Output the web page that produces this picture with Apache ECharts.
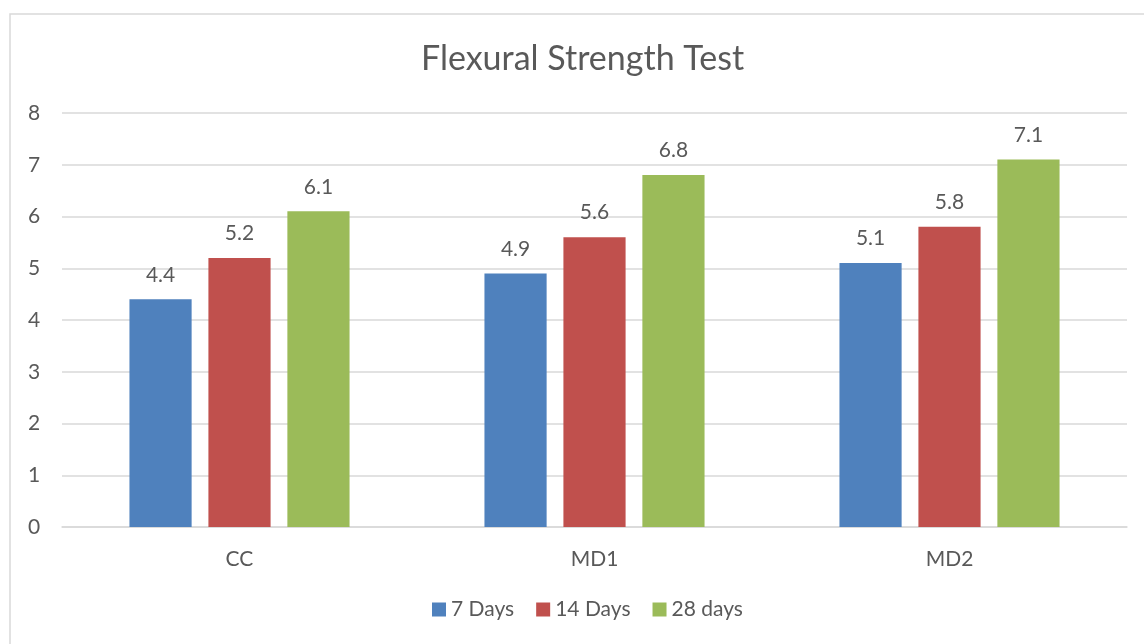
<!DOCTYPE html>
<html>
<head>
<meta charset="utf-8">
<script src="https://cdn.jsdelivr.net/npm/echarts@6/dist/echarts.min.js"></script>
<style>html,body{margin:0;padding:0;background:#fff}#c{width:1144px;height:644px}</style>
</head>
<body>
<div id="c"></div>
<script>
const categories = ['CC', 'MD1', 'MD2'];
const days7 = [4.4, 4.9, 5.1];
const days14 = [5.2, 5.6, 5.8];
const days28 = [6.1, 6.8, 7.1];
const seriesNames = ['7 Days', '14 Days', '28 days'];
const yTicks = [0, 1, 2, 3, 4, 5, 6, 7, 8];

const FONT = 'Lato, "Open Sans", sans-serif';
const TXT = '#595959';
const chart = echarts.init(document.getElementById('c'), null, {renderer: 'canvas'});
const label = {show: true, position: 'top', distance: 14, color: TXT, fontSize: 21, fontFamily: FONT};
chart.setOption({
  animation: false,
  backgroundColor: '#fff',
  graphic: [{
    type: 'rect', shape: {x: 10, y: 14, width: 1200, height: 700},
    style: {fill: 'none', stroke: '#d9d9d9', lineWidth: 1.5}, silent: true, z: -1
  }],
  title: {
    text: 'Flexural Strength Test', left: 416, top: 37,
    textStyle: {color: TXT, fontSize: 34, fontWeight: 'normal', fontFamily: FONT}
  },
  legend: {
    data: seriesNames, bottom: 19, left: 427, itemWidth: 14, itemHeight: 14, itemGap: 22,
    icon: 'rect', textStyle: {color: TXT, fontSize: 21, fontFamily: FONT}
  },
  grid: {left: 62, right: 17, top: 113, bottom: 117, containLabel: false},
  xAxis: {
    type: 'category', data: categories,
    axisLine: {lineStyle: {color: '#d9d9d9', width: 1.5}},
    axisTick: {show: false},
    axisLabel: {color: TXT, fontSize: 21, fontFamily: FONT, margin: 22}
  },
  yAxis: {
    type: 'value', min: yTicks[0], max: yTicks[yTicks.length - 1], interval: 1,
    axisLine: {show: false}, axisTick: {show: false},
    axisLabel: {color: TXT, fontSize: 21, fontFamily: FONT, margin: 28, align: 'center'},
    splitLine: {lineStyle: {color: '#d9d9d9', width: 1.5}}
  },
  series: [
    {name: seriesNames[0], type: 'bar', data: days7, itemStyle: {color: '#4F81BD'}, label, barGap: '27%', barCategoryGap: '38%'},
    {name: seriesNames[1], type: 'bar', data: days14, itemStyle: {color: '#C0504D'}, label, barGap: '27%', barCategoryGap: '38%'},
    {name: seriesNames[2], type: 'bar', data: days28, itemStyle: {color: '#9BBB59'}, label, barGap: '27%', barCategoryGap: '38%'}
  ]
});
</script>
</body>
</html>
